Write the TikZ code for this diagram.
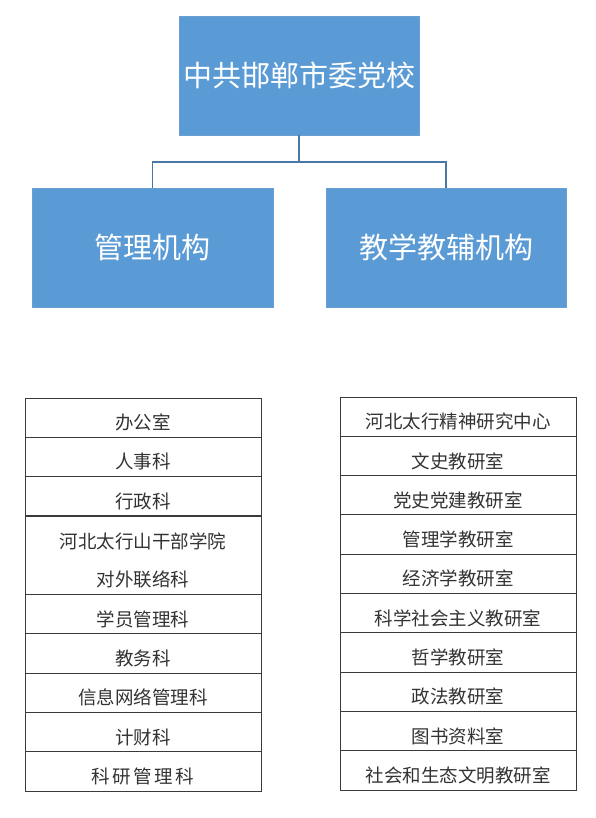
\documentclass[tikz,border=0pt]{standalone}
\usepackage{fontspec}
\newfontfamily\cjk{Noto Sans CJK SC}
\begin{document}
\begin{tikzpicture}[x=1pt,y=-1pt,
  bluebox/.style={draw=boxedge, fill=boxfill, line width=0.8pt, inner sep=0pt,
    text=white, font=\cjk\fontsize{29}{32}\selectfont},
  conn/.style={draw=connline, line width=1.2pt},
  cell/.style={draw=cellline, line width=0.9pt, inner sep=0pt, minimum width=236pt},
  celltext/.style={text=celltxt, inner sep=0pt, align=center,
    font=\cjk\fontsize{18.5}{37.6}\selectfont}]
\definecolor{boxfill}{HTML}{5B9BD5}
\definecolor{boxedge}{HTML}{6A9FD2}
\definecolor{connline}{HTML}{4A78A6}
\definecolor{cellline}{HTML}{3A3A3A}
\definecolor{celltxt}{HTML}{333333}
\useasboundingbox (0,0) rectangle (595,818);
\fill[white] (0,0) rectangle (595,818);
% top boxes
\node[bluebox, minimum width=240pt, minimum height=119pt] (top) at (299,75.5) {中共邯郸市委党校};
\node[bluebox, minimum width=241pt, minimum height=119pt] (mgmt) at (152.5,247.5) {管理机构};
\node[bluebox, minimum width=240pt, minimum height=119pt] (teach) at (446,247.5) {教学教辅机构};
\draw[conn] (top.south) -- ++(0,26.7) coordinate (mid) -| (mgmt.north);
\draw[conn] (mid) -| (teach.north);
% left table
\def\rh{39.3}
\foreach \i/\t in {0/办公室,1/人事科,2/行政科}{
  \node[cell, minimum height=\rh pt] (L\i) at (143,{398+\rh*(\i+0.5)}) {};
  \node[celltext] (LT\i) at ([yshift=-5pt]L\i.center) {\t};
}
\node[cell, minimum height=78pt] (L3) at (143,555) {};
\node[celltext] (LT3) at ([yshift=-5.5pt]L3.center) {河北太行山干部学院\\对外联络科};
\foreach \i/\t in {5/学员管理科,6/教务科,7/信息网络管理科,8/计财科}{
  \node[cell, minimum height=\rh pt] (L\i) at (143,{398+\rh*(\i+0.5)}) {};
  \node[celltext] (LT\i) at ([yshift=-5pt]L\i.center) {\t};
}
\node[cell, minimum height=\rh pt] (L9) at (143,{398+\rh*9.5}) {};
\node[celltext] (LT9) at ([yshift=-5pt]L9.center) {科\hspace{2.4pt}研\hspace{2.4pt}管\hspace{2.4pt}理\hspace{2.4pt}科};
% right table
\foreach \i/\t in {0/河北太行精神研究中心,1/文史教研室,2/党史党建教研室,3/管理学教研室,4/经济学教研室,5/科学社会主义教研室,6/哲学教研室,7/政法教研室,8/图书资料室,9/社会和生态文明教研室}{
  \node[cell, minimum height=\rh pt] (R\i) at (458,{397+\rh*(\i+0.5)}) {};
  \node[celltext] (RT\i) at ([yshift=-5pt]R\i.center) {\t};
}
\end{tikzpicture}
\end{document}
